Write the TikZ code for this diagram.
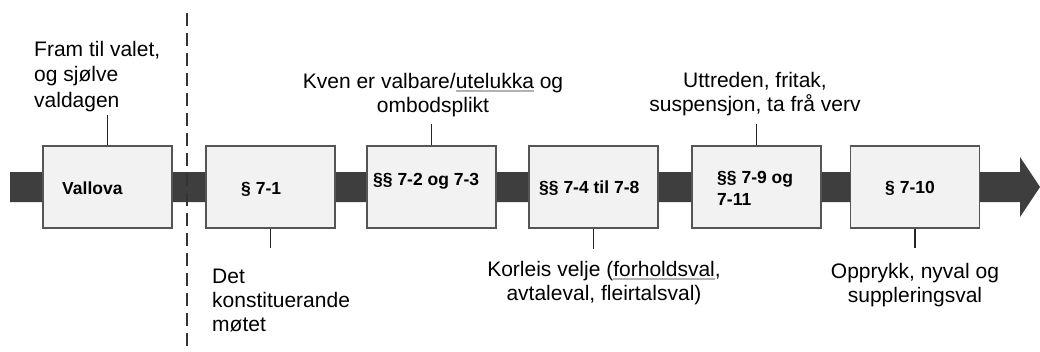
\documentclass[tikz,border=0pt]{standalone}
\usepackage{fontspec}
\setmainfont{Liberation Sans}
\definecolor{barc}{HTML}{3E3E3E}
\definecolor{boxfill}{HTML}{F2F2F2}
\definecolor{boxdraw}{HTML}{555555}
\newcommand{\spellmark}[1]{\setbox0\hbox{#1}\rlap{\textcolor{black!30}{\rule[-3.5pt]{\wd0}{1.3pt}}}#1}
\begin{document}
\begin{tikzpicture}[x=1pt,y=-1pt,
  stage/.style={draw=boxdraw, line width=1.5pt, fill=boxfill, minimum width=129pt, minimum height=82pt, inner sep=0pt},
  boxtxt/.style={font=\bfseries\fontsize{17.5}{22}\selectfont, inner sep=0pt, align=left},
  lbl/.style={font=\fontsize{21}{24}\selectfont, inner sep=0pt},
  tick/.style={line width=1.5pt, draw=black!85},
]
\useasboundingbox (0,0) rectangle (1040,351);
% time bar with arrow head
\fill[barc] (10,172) -- (1020,172) -- (1020,157) -- (1040,187) -- (1020,217) -- (1020,202) -- (10,202) -- cycle;
% dashed divider
\draw[line width=2pt, dash pattern=on 13pt off 7pt, black!80] (187,13) -- (187,351);
% stage boxes
\node[stage] (b1) at (107.5,187) {};
\node[stage] (b2) at (270.5,187) {};
\node[stage] (b3) at (431.5,187) {};
\node[stage] (b4) at (593.5,187) {};
\node[stage] (b5) at (756.5,187) {};
\node[stage] (b6) at (915,187) {};
% box texts
\node[boxtxt, anchor=base west] (t1) at (62,194) {Vallova};
\node[boxtxt, anchor=base west] (t2) at (241,194) {§ 7-1};
\node[boxtxt, anchor=base west] (t3) at (373,185) {§§ 7-2 og 7-3};
\node[boxtxt, anchor=base west] (t4) at (539,193) {§§ 7-4 til 7-8};
\node[boxtxt, anchor=base west] (t5) at (717,205) {§§ 7-9 og\\7-11};
\node[boxtxt, anchor=base west] (t6) at (885,193) {§ 7-10};
% labels (base = baseline of the last line)
\node[lbl, anchor=base west, align=left, font=\fontsize{21}{25.5}\selectfont] (l1) at (34,107) {Fram til valet,\\og sjølve\\valdagen};
\node[lbl, anchor=base west, align=left] (l2) at (212,331) {Det\\konstituerande\\møtet};
\node[lbl, anchor=base, align=center] (l3) at (433,112) {Kven er valbare/\spellmark{utelukka} og\\ombodsplikt};
\node[lbl, anchor=base, align=center] (l4) at (604,300) {Korleis velje (\spellmark{forholdsval},\\avtaleval, fleirtalsval)};
\node[lbl, anchor=base, align=center] (l5) at (755,111) {Uttreden, fritak,\\suspensjon, ta frå verv};
\node[lbl, anchor=base, align=center] (l6) at (915,302) {Opprykk, nyval og\\suppleringsval};
% ticks
\coordinate (c1) at (107.5,115);
\coordinate (c2) at (270.5,248);
\coordinate (c3) at (431.5,124);
\coordinate (c4) at (593.5,249);
\coordinate (c5) at (756.5,124);
\coordinate (c6) at (915,248);
\draw[tick] (b1.north) -- (c1);
\draw[tick] (b2.south) -- (c2);
\draw[tick] (b3.north) -- (c3);
\draw[tick] (b4.south) -- (c4);
\draw[tick] (b5.north) -- (c5);
\draw[tick] (b6.south) -- (c6);
\end{tikzpicture}
\end{document}
